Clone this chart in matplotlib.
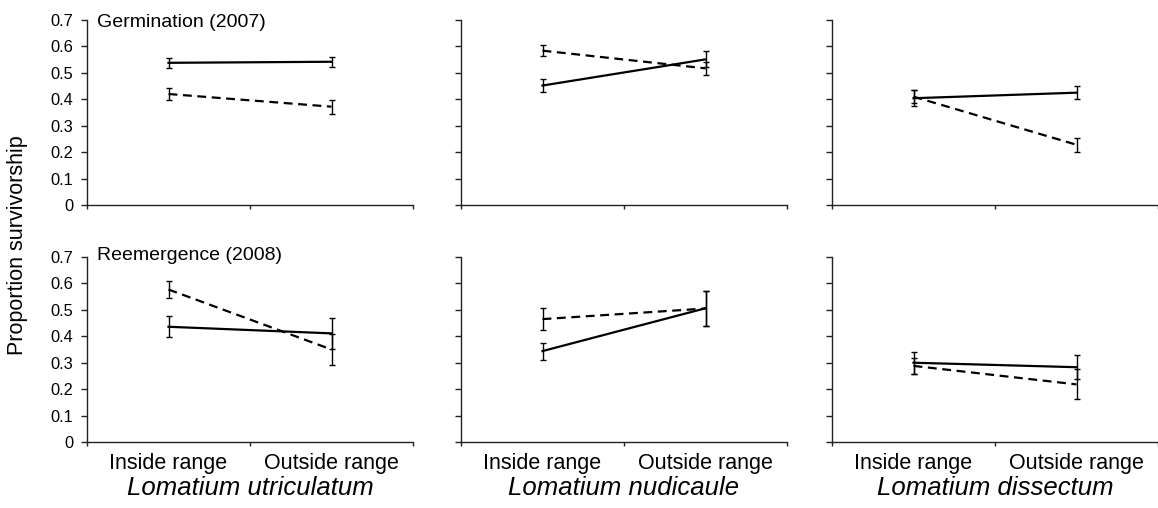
import matplotlib
matplotlib.use("Agg")
import matplotlib.pyplot as plt
import numpy as np

plt.rcParams['font.family'] = ['Liberation Sans', 'DejaVu Sans']

categories = ["Inside range", "Outside range"]
species = ["Lomatium utriculatum", "Lomatium nudicaule", "Lomatium dissectum"]
row_titles = ["Germination (2007)", "Reemergence (2008)"]

# [row][species] -> values at (inside, outside)
solid_vals = [
    [[0.538, 0.542], [0.452, 0.551], [0.404, 0.425]],
    [[0.436, 0.411], [0.344, 0.506], [0.300, 0.283]],
]
solid_err = [
    [[0.018, 0.019], [0.024, 0.030], [0.030, 0.024]],
    [[0.040, 0.058], [0.032, 0.067], [0.041, 0.046]],
]
dashed_vals = [
    [[0.420, 0.372], [0.584, 0.517], [0.410, 0.228]],
    [[0.577, 0.350], [0.465, 0.505], [0.288, 0.218]],
]
dashed_err = [
    [[0.024, 0.027], [0.020, 0.025], [0.025, 0.027]],
    [[0.032, 0.060], [0.043, 0.065], [0.030, 0.057]],
]
yticks = [0, 0.1, 0.2, 0.3, 0.4, 0.5, 0.6, 0.7]
ytick_labels = ["0", "0.1", "0.2", "0.3", "0.4", "0.5", "0.6", "0.7"]

W, H = 1158, 508
fig = plt.figure(figsize=(W / 100, H / 100), dpi=100)

lefts = [87, 461, 832]
width_px = 326
row_y0 = [205, 442]  # pixel y of zero line
height_px = 185

x = np.array([1, 2])
for r in range(2):
    for c in range(3):
        ax = fig.add_axes([lefts[c] / W, 1 - row_y0[r] / H, width_px / W, height_px / H])
        ax.errorbar(x, solid_vals[r][c], yerr=solid_err[r][c], color='black', lw=1.6,
                    ls='-', capsize=2.5, elinewidth=1.0, capthick=1.0)
        ax.errorbar(x, dashed_vals[r][c], yerr=dashed_err[r][c], color='black', lw=1.6,
                    ls=(0, (4, 2.5)), capsize=2.5, elinewidth=1.0, capthick=1.0)
        ax.set_xlim(0.5, 2.5)
        ax.set_ylim(0, 0.7)
        for s in ['top', 'right']:
            ax.spines[s].set_visible(False)
        for s in ['left', 'bottom']:
            ax.spines[s].set_linewidth(1.0)
            ax.spines[s].set_color('#222222')
        ax.set_yticks(yticks)
        if c == 0:
            ax.set_yticklabels(ytick_labels, fontsize=11.8)
        else:
            ax.set_yticklabels([])
        ax.tick_params(axis='y', direction='out', length=4, width=1, pad=6, colors='#222222', labelcolor='black')
        ax.set_xticks([0.5, 1.5, 2.5])
        ax.set_xticklabels([])
        ax.tick_params(axis='x', which='major', direction='out', length=3, width=1, colors='#222222')
        ax.set_xticks(x, minor=True)
        if r == 1:
            ax.set_xticklabels(categories, minor=True, fontsize=15.5)
        ax.tick_params(axis='x', which='minor', length=0, pad=8)
        if c == 0:
            ax.text(0.03, 0.69 if r == 0 else 0.705, row_titles[r], transform=ax.get_yaxis_transform(),
                    ha='left', va='center', fontsize=14)
        if r == 1:
            cx = (lefts[c] + width_px / 2) / W
            fig.text(cx, 1 - 488 / H, species[c], ha='center', va='center', fontsize=18.5, style='italic')

fig.text(18 / W, 1 - 245 / H, "Proportion survivorship", rotation=90, ha='center', va='center', fontsize=15.5)

fig.savefig("out.png", dpi=100)
